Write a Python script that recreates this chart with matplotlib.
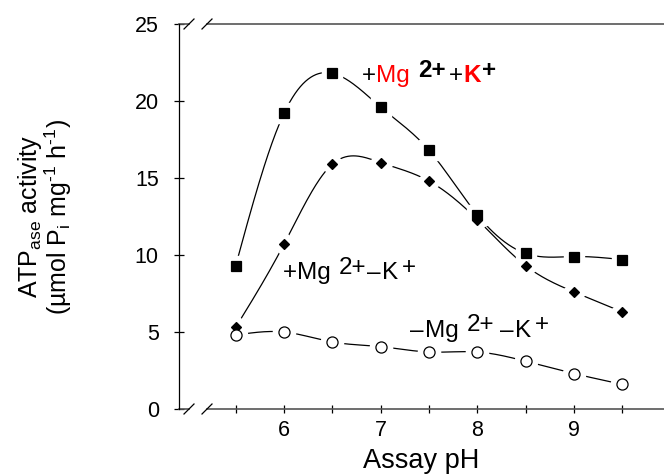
import numpy as np
import matplotlib
matplotlib.use('Agg')
from matplotlib import pyplot as plt

plt.rcParams['font.family'] = ['Liberation Sans', 'DejaVu Sans']
plt.rcParams['mathtext.fontset'] = 'custom'
plt.rcParams['mathtext.rm'] = 'Liberation Sans'
plt.rcParams['mathtext.it'] = 'Liberation Sans'

ph = np.array([5.5, 6.0, 6.5, 7.0, 7.5, 8.0, 8.5, 9.0, 9.5])
mg_k = np.array([9.3, 19.2, 21.8, 19.6, 16.8, 12.6, 10.1, 9.9, 9.7])      # +Mg2+ +K+
mg_nok = np.array([5.3, 10.7, 15.9, 16.0, 14.8, 12.3, 9.3, 7.6, 6.3])     # +Mg2+ -K+
nomg_nok = np.array([4.8, 5.0, 4.35, 4.05, 3.7, 3.7, 3.1, 2.3, 1.6])      # -Mg2+ -K+

xticks = [6, 7, 8, 9]
yticks = [0, 5, 10, 15, 20, 25]


def natural_spline(x, y, n=300):
    # natural cubic spline, just for the smooth guide line
    k = len(x)
    h = np.diff(x)
    A = np.zeros((k, k))
    r = np.zeros(k)
    A[0, 0] = A[-1, -1] = 1
    for i in range(1, k - 1):
        A[i, i - 1] = h[i - 1]
        A[i, i] = 2 * (h[i - 1] + h[i])
        A[i, i + 1] = h[i]
        r[i] = 6 * ((y[i + 1] - y[i]) / h[i] - (y[i] - y[i - 1]) / h[i - 1])
    M = np.linalg.solve(A, r)
    xs = np.linspace(x[0], x[-1], n)
    idx = np.clip(np.searchsorted(x, xs) - 1, 0, k - 2)
    x0, x1 = x[idx], x[idx + 1]
    hh = x1 - x0
    a = (x1 - xs) / hh
    b = (xs - x0) / hh
    ys = (a * y[idx] + b * y[idx + 1]
          + ((a**3 - a) * M[idx] + (b**3 - b) * M[idx + 1]) * hh**2 / 6)
    return xs, ys


fig = plt.figure(figsize=(6.64, 4.76), dpi=100)
ax = fig.add_axes([179/664, 67/476, 485/664, 385/476])

series = [(mg_k, 's', 7, 'black'),
          (mg_nok, 'D', 5.5, 'black'),
          (nomg_nok, 'o', 8, 'white')]
for yv, mk, ms, fc in series:
    xs, ys = natural_spline(ph, yv)
    ax.plot(xs, ys, color='black', lw=0.9, zorder=2)
for yv, mk, ms, fc in series:
    # white halo leaves a small gap between line and marker
    ax.plot(ph, yv, linestyle='none', marker=mk, ms=ms + 8, mfc='white',
            mec='white', zorder=3)
for yv, mk, ms, fc in series:
    ax.plot(ph, yv, linestyle='none', marker=mk, ms=ms, mfc=fc,
            mec='black', mew=0.9, zorder=4)

ax.set_xlim(4.914, 9.93)
ax.set_ylim(0, 25)
ax.set_xticks(np.arange(5.5, 9.6, 0.5))
ax.set_xticklabels(['' if v not in xticks else str(int(v))
                    for v in np.arange(5.5, 9.6, 0.5)])
ax.set_yticks(yticks)
ax.tick_params(direction='inout', length=7, width=0.9, labelsize=15.5)
ax.tick_params(axis='x', length=6, pad=5)
ax.tick_params(axis='y', pad=11)

for s in ['top', 'bottom', 'right']:
    ax.spines[s].set_visible(False)
ax.spines['left'].set_linewidth(0.9)

# broken axis lines at bottom and top
b1, b2 = 10/485, 28/485
dx, dy = 5/485, 5/385
for yy in (0, 1):
    kw = dict(transform=ax.transAxes, clip_on=False, color='#555555', lw=1.2)
    ax.plot([0, b1], [yy, yy], **kw)
    ax.plot([b2, 1], [yy, yy], **kw)
    for bx in (b1, b2):
        ax.plot([bx - dx, bx + dx], [yy - dy, yy + dy], transform=ax.transAxes,
                clip_on=False, color='black', lw=0.9)

ax.set_xlabel('Assay pH', fontsize=19.5, labelpad=5)
fig.text(0.045, 0.545, 'ATP$_{\\mathregular{ase}}$ activity', rotation=90,
         fontsize=18, ha='center', va='center')
fig.text(0.088, 0.545,
         '(µmol P$_{\\mathregular{i}}$ mg$^{\\mathregular{\u20101}}$ h$^{\\mathregular{\u20101}}$)',
         rotation=90, fontsize=18, ha='center', va='center')


def label(x, y, pieces):
    prev = None
    for txt, col, wt, ddx, ddy in pieces:
        if prev is None:
            prev = ax.text(x, y, txt, color=col, fontweight=wt, fontsize=17.5,
                           va='bottom', ha='left', zorder=5)
        else:
            prev = ax.annotate(txt, xy=(1, 0), xycoords=prev,
                               xytext=(ddx, ddy), textcoords='offset points',
                               color=col, fontweight=wt, fontsize=17.5,
                               va='bottom', ha='left', zorder=5)


label(6.81, 20.9, [('+', 'black', 'normal', 0, 0),
                   ('Mg', 'red', 'normal', 0, 0),
                   ('2+', 'black', 'bold', 6, 4),
                   ('+', 'black', 'normal', 2, -4),
                   ('K', 'red', 'bold', 0, 0),
                   ('+', 'black', 'bold', 1, 4)])
label(5.99, 8.1, [('+', 'black', 'normal', 0, 0),
                  ('Mg', 'black', 'normal', 0, 0),
                  ('2+', 'black', 'normal', 6, 4),
                  ('–', 'black', 'normal', 0, -4),
                  ('K', 'black', 'normal', 1, 0),
                  ('+', 'black', 'normal', 3, 4)])
label(7.30, 4.35, [('–', 'black', 'normal', 0, 0),
                   ('Mg', 'black', 'normal', 1, 0),
                   ('2+', 'black', 'normal', 6, 4),
                   ('–', 'black', 'normal', 4, -4),
                   ('K', 'black', 'normal', 1, 0),
                   ('+', 'black', 'normal', 3, 4)])

fig.savefig('out.png', dpi=100)
